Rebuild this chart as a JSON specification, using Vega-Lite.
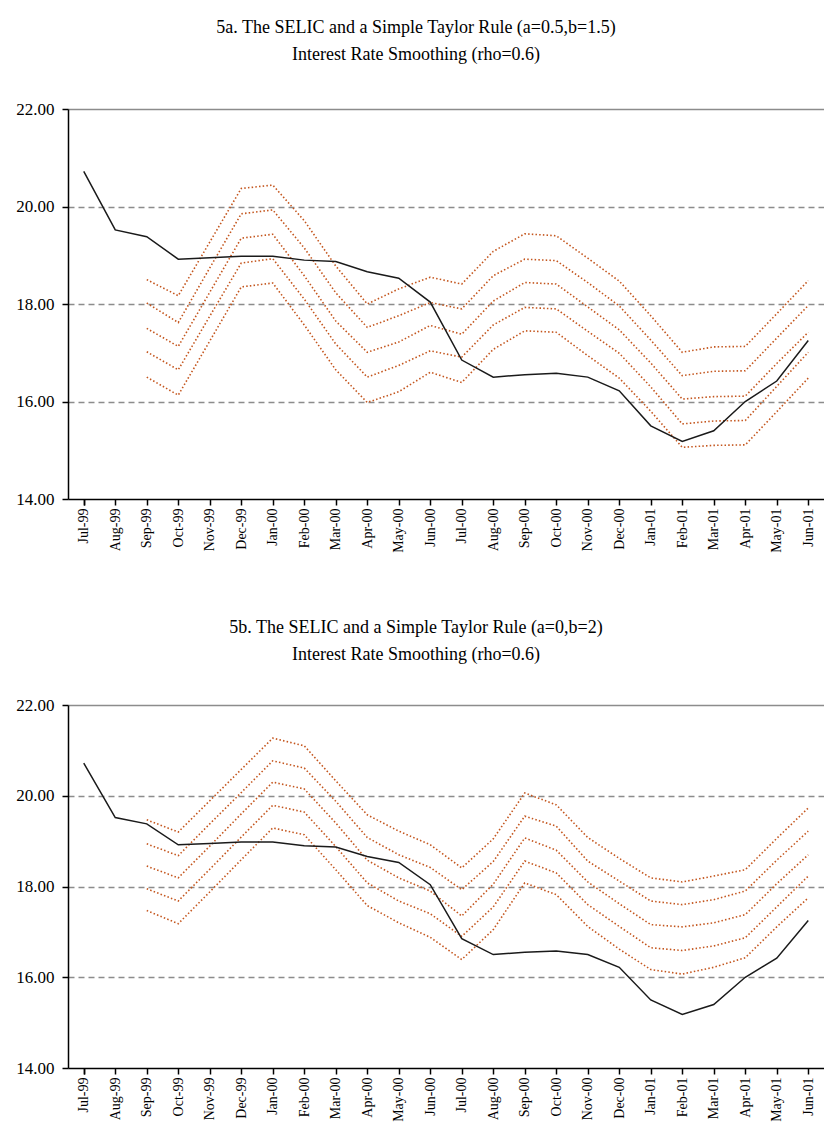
{
  "$schema": "https://vega.github.io/schema/vega-lite/v6.json",
  "padding": {"left": 8, "right": 0, "top": 19, "bottom": 0},
  "spacing": 66,
  "config": {
    "view": {"stroke": null},
    "font": "Liberation Serif",
    "title": {"font": "Liberation Serif", "fontSize": 18, "fontWeight": "normal", "color": "#000", "anchor": "middle", "frame": "bounds", "lineHeight": 27},
    "axisX": {"title": null, "labelAngle": -90, "labelFont": "Liberation Serif", "labelFontSize": 14, "labelColor": "#000", "tickBand": "extent", "tickColor": "#000", "tickSize": 6, "tickWidth": 1.5, "domainColor": "#000", "domainWidth": 1.5, "grid": false, "labelPadding": 3},
    "axisY": {"title": null, "labelFont": "Liberation Serif", "labelFontSize": 17, "labelColor": "#000", "tickColor": "#000", "tickSize": 6, "tickWidth": 1.5, "domainColor": "#000", "domainWidth": 1.5, "minExtent": 60, "maxExtent": 60, "labelPadding": 8}
  },
  "datasets": {
    "selic": [
      {"m": "Jul-99", "v": 20.72}, {"m": "Aug-99", "v": 19.52}, {"m": "Sep-99", "v": 19.38}, {"m": "Oct-99", "v": 18.92},
      {"m": "Nov-99", "v": 18.95}, {"m": "Dec-99", "v": 18.98}, {"m": "Jan-00", "v": 18.98}, {"m": "Feb-00", "v": 18.9},
      {"m": "Mar-00", "v": 18.87}, {"m": "Apr-00", "v": 18.66}, {"m": "May-00", "v": 18.53}, {"m": "Jun-00", "v": 18.04},
      {"m": "Jul-00", "v": 16.85}, {"m": "Aug-00", "v": 16.5}, {"m": "Sep-00", "v": 16.55}, {"m": "Oct-00", "v": 16.58},
      {"m": "Nov-00", "v": 16.5}, {"m": "Dec-00", "v": 16.22}, {"m": "Jan-01", "v": 15.5}, {"m": "Feb-01", "v": 15.18},
      {"m": "Mar-01", "v": 15.4}, {"m": "Apr-01", "v": 16.0}, {"m": "May-01", "v": 16.42}, {"m": "Jun-01", "v": 17.25}
    ],
    "ta": [
      {"m": "Sep-99", "s": 1, "v": 18.50}, {"m": "Sep-99", "s": 2, "v": 18.02}, {"m": "Sep-99", "s": 3, "v": 17.50}, {"m": "Sep-99", "s": 4, "v": 17.02}, {"m": "Sep-99", "s": 5, "v": 16.50},
      {"m": "Oct-99", "s": 1, "v": 18.17}, {"m": "Oct-99", "s": 2, "v": 17.62}, {"m": "Oct-99", "s": 3, "v": 17.13}, {"m": "Oct-99", "s": 4, "v": 16.65}, {"m": "Oct-99", "s": 5, "v": 16.13},
      {"m": "Nov-99", "s": 1, "v": 19.27}, {"m": "Nov-99", "s": 2, "v": 18.74}, {"m": "Nov-99", "s": 3, "v": 18.24}, {"m": "Nov-99", "s": 4, "v": 17.75}, {"m": "Nov-99", "s": 5, "v": 17.24},
      {"m": "Dec-99", "s": 1, "v": 20.37}, {"m": "Dec-99", "s": 2, "v": 19.85}, {"m": "Dec-99", "s": 3, "v": 19.35}, {"m": "Dec-99", "s": 4, "v": 18.84}, {"m": "Dec-99", "s": 5, "v": 18.35},
      {"m": "Jan-00", "s": 1, "v": 20.44}, {"m": "Jan-00", "s": 2, "v": 19.93}, {"m": "Jan-00", "s": 3, "v": 19.43}, {"m": "Jan-00", "s": 4, "v": 18.93}, {"m": "Jan-00", "s": 5, "v": 18.43},
      {"m": "Feb-00", "s": 1, "v": 19.71}, {"m": "Feb-00", "s": 2, "v": 19.15}, {"m": "Feb-00", "s": 3, "v": 18.58}, {"m": "Feb-00", "s": 4, "v": 18.10}, {"m": "Feb-00", "s": 5, "v": 17.57},
      {"m": "Mar-00", "s": 1, "v": 18.78}, {"m": "Mar-00", "s": 2, "v": 18.23}, {"m": "Mar-00", "s": 3, "v": 17.65}, {"m": "Mar-00", "s": 4, "v": 17.18}, {"m": "Mar-00", "s": 5, "v": 16.65},
      {"m": "Apr-00", "s": 1, "v": 18.00}, {"m": "Apr-00", "s": 2, "v": 17.52}, {"m": "Apr-00", "s": 3, "v": 17.01}, {"m": "Apr-00", "s": 4, "v": 16.50}, {"m": "Apr-00", "s": 5, "v": 15.98},
      {"m": "May-00", "s": 1, "v": 18.31}, {"m": "May-00", "s": 2, "v": 17.76}, {"m": "May-00", "s": 3, "v": 17.22}, {"m": "May-00", "s": 4, "v": 16.74}, {"m": "May-00", "s": 5, "v": 16.20},
      {"m": "Jun-00", "s": 1, "v": 18.55}, {"m": "Jun-00", "s": 2, "v": 18.03}, {"m": "Jun-00", "s": 3, "v": 17.56}, {"m": "Jun-00", "s": 4, "v": 17.04}, {"m": "Jun-00", "s": 5, "v": 16.60},
      {"m": "Jul-00", "s": 1, "v": 18.41}, {"m": "Jul-00", "s": 2, "v": 17.90}, {"m": "Jul-00", "s": 3, "v": 17.38}, {"m": "Jul-00", "s": 4, "v": 16.91}, {"m": "Jul-00", "s": 5, "v": 16.39},
      {"m": "Aug-00", "s": 1, "v": 19.08}, {"m": "Aug-00", "s": 2, "v": 18.58}, {"m": "Aug-00", "s": 3, "v": 18.06}, {"m": "Aug-00", "s": 4, "v": 17.57}, {"m": "Aug-00", "s": 5, "v": 17.07},
      {"m": "Sep-00", "s": 1, "v": 19.44}, {"m": "Sep-00", "s": 2, "v": 18.92}, {"m": "Sep-00", "s": 3, "v": 18.44}, {"m": "Sep-00", "s": 4, "v": 17.93}, {"m": "Sep-00", "s": 5, "v": 17.45},
      {"m": "Oct-00", "s": 1, "v": 19.40}, {"m": "Oct-00", "s": 2, "v": 18.89}, {"m": "Oct-00", "s": 3, "v": 18.41}, {"m": "Oct-00", "s": 4, "v": 17.90}, {"m": "Oct-00", "s": 5, "v": 17.42},
      {"m": "Nov-00", "s": 1, "v": 18.94}, {"m": "Nov-00", "s": 2, "v": 18.44}, {"m": "Nov-00", "s": 3, "v": 17.94}, {"m": "Nov-00", "s": 4, "v": 17.44}, {"m": "Nov-00", "s": 5, "v": 16.94},
      {"m": "Dec-00", "s": 1, "v": 18.47}, {"m": "Dec-00", "s": 2, "v": 17.96}, {"m": "Dec-00", "s": 3, "v": 17.47}, {"m": "Dec-00", "s": 4, "v": 16.99}, {"m": "Dec-00", "s": 5, "v": 16.48},
      {"m": "Jan-01", "s": 1, "v": 17.76}, {"m": "Jan-01", "s": 2, "v": 17.26}, {"m": "Jan-01", "s": 3, "v": 16.79}, {"m": "Jan-01", "s": 4, "v": 16.30}, {"m": "Jan-01", "s": 5, "v": 15.80},
      {"m": "Feb-01", "s": 1, "v": 17.01}, {"m": "Feb-01", "s": 2, "v": 16.53}, {"m": "Feb-01", "s": 3, "v": 16.05}, {"m": "Feb-01", "s": 4, "v": 15.54}, {"m": "Feb-01", "s": 5, "v": 15.06},
      {"m": "Mar-01", "s": 1, "v": 17.12}, {"m": "Mar-01", "s": 2, "v": 16.62}, {"m": "Mar-01", "s": 3, "v": 16.10}, {"m": "Mar-01", "s": 4, "v": 15.60}, {"m": "Mar-01", "s": 5, "v": 15.10},
      {"m": "Apr-01", "s": 1, "v": 17.13}, {"m": "Apr-01", "s": 2, "v": 16.63}, {"m": "Apr-01", "s": 3, "v": 16.11}, {"m": "Apr-01", "s": 4, "v": 15.61}, {"m": "Apr-01", "s": 5, "v": 15.11},
      {"m": "May-01", "s": 1, "v": 17.80}, {"m": "May-01", "s": 2, "v": 17.30}, {"m": "May-01", "s": 3, "v": 16.78}, {"m": "May-01", "s": 4, "v": 16.31}, {"m": "May-01", "s": 5, "v": 15.79},
      {"m": "Jun-01", "s": 1, "v": 18.48}, {"m": "Jun-01", "s": 2, "v": 17.97}, {"m": "Jun-01", "s": 3, "v": 17.42}, {"m": "Jun-01", "s": 4, "v": 17.01}, {"m": "Jun-01", "s": 5, "v": 16.48}
    ],
    "tb": [
      {"m": "Sep-99", "s": 1, "v": 19.47}, {"m": "Sep-99", "s": 2, "v": 18.94}, {"m": "Sep-99", "s": 3, "v": 18.45}, {"m": "Sep-99", "s": 4, "v": 17.95}, {"m": "Sep-99", "s": 5, "v": 17.47},
      {"m": "Oct-99", "s": 1, "v": 19.20}, {"m": "Oct-99", "s": 2, "v": 18.68}, {"m": "Oct-99", "s": 3, "v": 18.19}, {"m": "Oct-99", "s": 4, "v": 17.68}, {"m": "Oct-99", "s": 5, "v": 17.18},
      {"m": "Nov-99", "s": 1, "v": 19.89}, {"m": "Nov-99", "s": 2, "v": 19.38}, {"m": "Nov-99", "s": 3, "v": 18.89}, {"m": "Nov-99", "s": 4, "v": 18.38}, {"m": "Nov-99", "s": 5, "v": 17.88},
      {"m": "Dec-99", "s": 1, "v": 20.58}, {"m": "Dec-99", "s": 2, "v": 20.07}, {"m": "Dec-99", "s": 3, "v": 19.60}, {"m": "Dec-99", "s": 4, "v": 19.09}, {"m": "Dec-99", "s": 5, "v": 18.59},
      {"m": "Jan-00", "s": 1, "v": 21.27}, {"m": "Jan-00", "s": 2, "v": 20.77}, {"m": "Jan-00", "s": 3, "v": 20.30}, {"m": "Jan-00", "s": 4, "v": 19.79}, {"m": "Jan-00", "s": 5, "v": 19.29},
      {"m": "Feb-00", "s": 1, "v": 21.10}, {"m": "Feb-00", "s": 2, "v": 20.61}, {"m": "Feb-00", "s": 3, "v": 20.15}, {"m": "Feb-00", "s": 4, "v": 19.64}, {"m": "Feb-00", "s": 5, "v": 19.14},
      {"m": "Mar-00", "s": 1, "v": 20.33}, {"m": "Mar-00", "s": 2, "v": 19.88}, {"m": "Mar-00", "s": 3, "v": 19.40}, {"m": "Mar-00", "s": 4, "v": 18.88}, {"m": "Mar-00", "s": 5, "v": 18.37},
      {"m": "Apr-00", "s": 1, "v": 19.58}, {"m": "Apr-00", "s": 2, "v": 19.08}, {"m": "Apr-00", "s": 3, "v": 18.58}, {"m": "Apr-00", "s": 4, "v": 18.08}, {"m": "Apr-00", "s": 5, "v": 17.58},
      {"m": "May-00", "s": 1, "v": 19.22}, {"m": "May-00", "s": 2, "v": 18.70}, {"m": "May-00", "s": 3, "v": 18.19}, {"m": "May-00", "s": 4, "v": 17.68}, {"m": "May-00", "s": 5, "v": 17.20},
      {"m": "Jun-00", "s": 1, "v": 18.92}, {"m": "Jun-00", "s": 2, "v": 18.42}, {"m": "Jun-00", "s": 3, "v": 17.90}, {"m": "Jun-00", "s": 4, "v": 17.40}, {"m": "Jun-00", "s": 5, "v": 16.88},
      {"m": "Jul-00", "s": 1, "v": 18.41}, {"m": "Jul-00", "s": 2, "v": 17.93}, {"m": "Jul-00", "s": 3, "v": 17.35}, {"m": "Jul-00", "s": 4, "v": 16.90}, {"m": "Jul-00", "s": 5, "v": 16.39},
      {"m": "Aug-00", "s": 1, "v": 19.05}, {"m": "Aug-00", "s": 2, "v": 18.55}, {"m": "Aug-00", "s": 3, "v": 18.05}, {"m": "Aug-00", "s": 4, "v": 17.55}, {"m": "Aug-00", "s": 5, "v": 17.05},
      {"m": "Sep-00", "s": 1, "v": 20.06}, {"m": "Sep-00", "s": 2, "v": 19.55}, {"m": "Sep-00", "s": 3, "v": 19.07}, {"m": "Sep-00", "s": 4, "v": 18.56}, {"m": "Sep-00", "s": 5, "v": 18.08},
      {"m": "Oct-00", "s": 1, "v": 19.80}, {"m": "Oct-00", "s": 2, "v": 19.33}, {"m": "Oct-00", "s": 3, "v": 18.80}, {"m": "Oct-00", "s": 4, "v": 18.30}, {"m": "Oct-00", "s": 5, "v": 17.82},
      {"m": "Nov-00", "s": 1, "v": 19.08}, {"m": "Nov-00", "s": 2, "v": 18.56}, {"m": "Nov-00", "s": 3, "v": 18.10}, {"m": "Nov-00", "s": 4, "v": 17.60}, {"m": "Nov-00", "s": 5, "v": 17.12},
      {"m": "Dec-00", "s": 1, "v": 18.62}, {"m": "Dec-00", "s": 2, "v": 18.12}, {"m": "Dec-00", "s": 3, "v": 17.62}, {"m": "Dec-00", "s": 4, "v": 17.12}, {"m": "Dec-00", "s": 5, "v": 16.62},
      {"m": "Jan-01", "s": 1, "v": 18.19}, {"m": "Jan-01", "s": 2, "v": 17.68}, {"m": "Jan-01", "s": 3, "v": 17.16}, {"m": "Jan-01", "s": 4, "v": 16.65}, {"m": "Jan-01", "s": 5, "v": 16.17},
      {"m": "Feb-01", "s": 1, "v": 18.10}, {"m": "Feb-01", "s": 2, "v": 17.60}, {"m": "Feb-01", "s": 3, "v": 17.11}, {"m": "Feb-01", "s": 4, "v": 16.59}, {"m": "Feb-01", "s": 5, "v": 16.07},
      {"m": "Mar-01", "s": 1, "v": 18.23}, {"m": "Mar-01", "s": 2, "v": 17.71}, {"m": "Mar-01", "s": 3, "v": 17.20}, {"m": "Mar-01", "s": 4, "v": 16.69}, {"m": "Mar-01", "s": 5, "v": 16.22},
      {"m": "Apr-01", "s": 1, "v": 18.37}, {"m": "Apr-01", "s": 2, "v": 17.90}, {"m": "Apr-01", "s": 3, "v": 17.38}, {"m": "Apr-01", "s": 4, "v": 16.87}, {"m": "Apr-01", "s": 5, "v": 16.43},
      {"m": "May-01", "s": 1, "v": 19.06}, {"m": "May-01", "s": 2, "v": 18.58}, {"m": "May-01", "s": 3, "v": 18.06}, {"m": "May-01", "s": 4, "v": 17.55}, {"m": "May-01", "s": 5, "v": 17.11},
      {"m": "Jun-01", "s": 1, "v": 19.73}, {"m": "Jun-01", "s": 2, "v": 19.22}, {"m": "Jun-01", "s": 3, "v": 18.70}, {"m": "Jun-01", "s": 4, "v": 18.23}, {"m": "Jun-01", "s": 5, "v": 17.75}
    ]
  },
  "vconcat": [
    {
      "title": {"text": ["5a. The SELIC and a Simple Taylor Rule (a=0.5,b=1.5)", "Interest Rate Smoothing (rho=0.6)"], "offset": 36},
      "width": 756,
      "height": 390,
      "encoding": {
        "x": {"field": "m", "type": "ordinal", "sort": null,
          "scale": {"domain": ["Jul-99","Aug-99","Sep-99","Oct-99","Nov-99","Dec-99","Jan-00","Feb-00","Mar-00","Apr-00","May-00","Jun-00","Jul-00","Aug-00","Sep-00","Oct-00","Nov-00","Dec-00","Jan-01","Feb-01","Mar-01","Apr-01","May-01","Jun-01"], "paddingInner": 0, "paddingOuter": 0}},
        "y": {"field": "v", "type": "quantitative",
          "scale": {"domain": [14, 22], "nice": false, "zero": false},
          "axis": {"values": [14, 16, 18, 20, 22], "format": ".2f", "grid": true, "gridColor": "#8c8c8c", "gridWidth": 1.5,
            "gridDash": {"condition": {"test": "datum.value == 22", "value": []}, "value": [6, 4]},
            "gridOpacity": {"condition": {"test": "datum.value == 14", "value": 0}, "value": 1}}}
      },
      "layer": [
        {"data": {"name": "ta"}, "mark": {"type": "line", "color": "#C4561E", "strokeWidth": 1.6, "strokeDash": [1.5, 2.2]}, "encoding": {"detail": {"field": "s"}}},
        {"data": {"name": "selic"}, "mark": {"type": "line", "color": "#1a1a1a", "strokeWidth": 1.5}}
      ]
    },
    {
      "title": {"text": ["5b. The SELIC and a Simple Taylor Rule (a=0,b=2)", "Interest Rate Smoothing (rho=0.6)"], "offset": 32},
      "width": 756,
      "height": 363,
      "encoding": {
        "x": {"field": "m", "type": "ordinal", "sort": null,
          "scale": {"domain": ["Jul-99","Aug-99","Sep-99","Oct-99","Nov-99","Dec-99","Jan-00","Feb-00","Mar-00","Apr-00","May-00","Jun-00","Jul-00","Aug-00","Sep-00","Oct-00","Nov-00","Dec-00","Jan-01","Feb-01","Mar-01","Apr-01","May-01","Jun-01"], "paddingInner": 0, "paddingOuter": 0}},
        "y": {"field": "v", "type": "quantitative",
          "scale": {"domain": [14, 22], "nice": false, "zero": false},
          "axis": {"values": [14, 16, 18, 20, 22], "format": ".2f", "grid": true, "gridColor": "#8c8c8c", "gridWidth": 1.5,
            "gridDash": {"condition": {"test": "datum.value == 22", "value": []}, "value": [6, 4]},
            "gridOpacity": {"condition": {"test": "datum.value == 14", "value": 0}, "value": 1}}}
      },
      "layer": [
        {"data": {"name": "tb"}, "mark": {"type": "line", "color": "#C4561E", "strokeWidth": 1.6, "strokeDash": [1.5, 2.2]}, "encoding": {"detail": {"field": "s"}}},
        {"data": {"name": "selic"}, "mark": {"type": "line", "color": "#1a1a1a", "strokeWidth": 1.5}}
      ]
    }
  ]
}
